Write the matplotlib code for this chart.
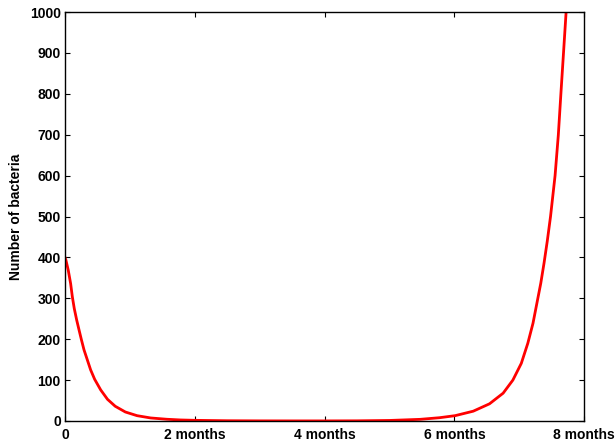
import numpy as np
import matplotlib
matplotlib.use("Agg")
import matplotlib.pyplot as plt

plt.rcParams['font.family'] = ['Liberation Sans', 'DejaVu Sans']
plt.rcParams['font.weight'] = 'bold'

# bacteria count over time (months)
months = [0, 0.015, 0.05, 0.087, 0.113, 0.143, 0.18, 0.216, 0.251, 0.293,
          0.343, 0.395, 0.457, 0.55, 0.655, 0.774, 0.93, 1.11, 1.32, 1.57,
          1.78, 2.0, 2.5, 3.0, 3.5, 4.0, 4.5, 5.0, 5.47, 5.77, 6.01, 6.29,
          6.54, 6.75, 6.90, 7.03, 7.13, 7.21, 7.27, 7.33, 7.38, 7.43, 7.48,
          7.55, 7.60, 7.64, 7.68, 7.72]
bacteria = [400, 393, 369, 336, 304, 275, 247, 223, 200, 174,
            150, 125, 102, 76, 53, 36, 22, 13, 7.4, 4.2,
            2.5, 1.6, 0.6, 0.3, 0.2, 0.2, 0.4, 1.3, 4, 8, 13, 24,
            42, 68, 100, 141, 190, 239, 288, 337, 386, 440, 500,
            600, 699, 801, 900, 1000]

xticks = [0, 2, 4, 6, 8]
xticklabels = ['0', '2 months', '4 months', '6 months', '8 months']
yticks = list(range(0, 1001, 100))

fig = plt.figure(figsize=(6.16, 4.43), dpi=100)
ax = fig.add_axes([0.1055, 0.0497, 0.843, 0.923])

ax.plot(months, bacteria, color='red', lw=2)

ax.set_xlim(0, 8)
ax.set_ylim(0, 1000)
ax.set_xticks(xticks)
ax.set_xticklabels(xticklabels)
ax.set_yticks(yticks)
ax.tick_params(direction='in', length=3.6, width=0.8, labelsize=10,
               top=True, right=True)
ax.tick_params(axis='x', pad=5)
ax.tick_params(axis='y', pad=3)
for s in ax.spines.values():
    s.set_linewidth(1.0)

ax.set_ylabel('Number of bacteria', fontsize=10, fontweight='bold', labelpad=5)

fig.savefig('out.png', dpi=100)
